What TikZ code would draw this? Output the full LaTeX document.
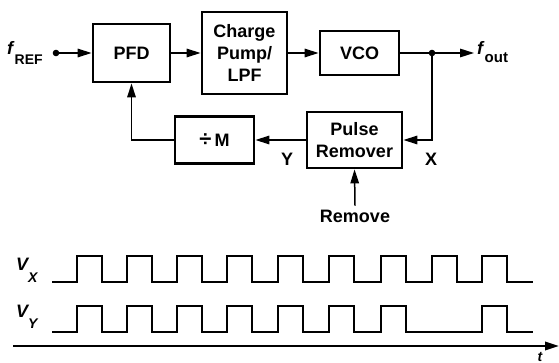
\documentclass[tikz,border=0pt]{standalone}
\usepackage{fontspec}
\setmainfont{Liberation Sans}
\usetikzlibrary{arrows.meta,positioning,calc}

\begin{document}
\begin{tikzpicture}[
  x=1pt, y=-1pt,
  >={Triangle[length=14pt,width=8.5pt]},
  blk/.style={draw, line width=2.8pt, font=\fontsize{18}{22}\selectfont\bfseries,
              align=center, inner sep=0pt},
  wire/.style={line width=1.5pt},
  lbl/.style={font=\fontsize{18}{21}\selectfont\bfseries, inner sep=0pt},
  wave/.style={line width=2.8pt, line join=miter},
]
\useasboundingbox (0,0) rectangle (559,363);

% forward path
\node[blk, minimum width=77pt, minimum height=58pt] (pfd) at (131.5,53) {PFD};
\node[blk, minimum width=85pt, minimum height=82pt] (cp)  at (244.5,53) {Charge\\Pump/\\LPF};
\node[blk, minimum width=79pt, minimum height=44pt] (vco) at (359.5,53) {VCO};

% feedback path
\node[blk, minimum width=79pt, minimum height=47pt] (div) at (214.5,140)
  {{\fontsize{22}{22}\selectfont\char"00F7}\,M};
\node[blk, minimum width=95pt, minimum height=56pt] (pr)  at (354.5,140) {Pulse\\Remover};

\coordinate (in)  at (56,53);
\coordinate (j)   at (432,53);
\coordinate (out) at (474,53);

\node[lbl, anchor=base west] (fref) at (7,55)
  {\textit{f}\raisebox{-10pt}{\fontsize{14}{16}\selectfont REF}};
\node[lbl, anchor=base west] (fout) at (477,55)
  {\textit{f}\raisebox{-8pt}{\fontsize{15}{16}\selectfont out}};
\node[lbl] (xl) at (431,159) {X};
\node[lbl] (yl) at (287,159) {Y};
\node[lbl] (rm) at (355,216) {Remove};

\draw[wire, ->] (in) -- (pfd.west);
\fill (in) circle (3.3pt);
\draw[wire, ->] (pfd.east) -- (cp.west);
\draw[wire, ->] (cp.east) -- (vco.west);
\draw[wire, ->] (vco.east) -- (out);
\fill (j) circle (3.3pt);
\draw[wire, ->] (j) |- (pr.east);
\draw[wire, ->] (pr.west) -- (div.east);
\draw[wire, ->] (div.west) -| (pfd.south);
\draw[wire, ->] ([yshift=4pt]rm.north) -- (pr.south);

% waveforms
\node[lbl, anchor=base west, font=\fontsize{18}{21}\selectfont\bfseries\itshape] (vx) at (16,270)
  {V\raisebox{-12pt}{\fontsize{14}{16}\selectfont X}};
\node[lbl, anchor=base west, font=\fontsize{18}{21}\selectfont\bfseries\itshape] (vy) at (16,317)
  {V\raisebox{-11pt}{\fontsize{14}{16}\selectfont Y}};

\draw[wave] (52,282) \foreach \x in {77,127,177,227,278,329,381,432,482}
  {-- (\x,282) -- (\x,256) -- (\x+25,256) -- (\x+25,282)} -- (533,282);
\draw[wave] (52,332) \foreach \x in {77,127,177,227,278,329,381,482}
  {-- (\x,332) -- (\x,306) -- (\x+25,306) -- (\x+25,332)} -- (533,332);

\coordinate (t0) at (13,346);
\coordinate (t1) at (559,346);
\draw[line width=2pt, ->] (t0) -- (t1);
\node[lbl, anchor=base, font=\fontsize{14}{15}\selectfont\bfseries\itshape] (tl) at (540,361) {t};
\end{tikzpicture}
\end{document}
